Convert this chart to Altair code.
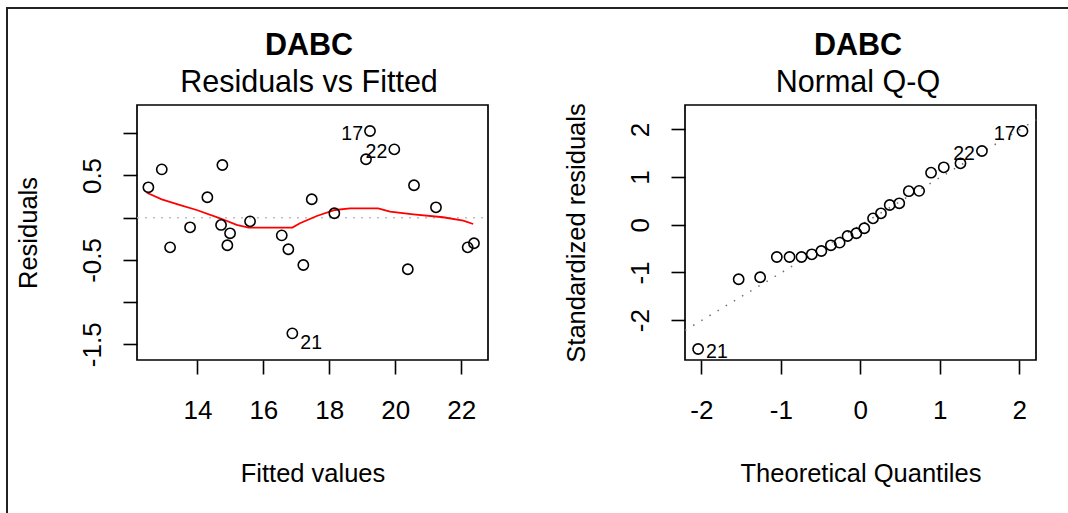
import altair as alt
import pandas as pd

FONT = "Liberation Sans"

# ---- Residuals vs Fitted -------------------------------------------------
fitted = [12.515, 12.921, 13.173, 13.779, 14.303, 14.758, 14.718, 14.991,
          14.909, 15.597, 16.558, 16.758, 17.212, 16.879, 17.467, 18.152,
          19.233, 19.112, 19.970, 20.567, 21.233, 20.379, 22.194, 22.385]
residuals = [0.360, 0.573, -0.351, -0.114, 0.242, 0.624, -0.086, -0.185,
             -0.327, -0.043, -0.209, -0.374, -0.560, -1.370, 0.218, 0.052,
             1.027, 0.692, 0.810, 0.384, 0.123, -0.611, -0.351, -0.303]
resid_ids = ["", "", "", "", "", "", "", "", "", "", "", "", "", "21",
             "", "", "17", "", "22", "", "", "", "", ""]

# lowess smooth through the residuals
smooth_x = [12.47, 12.92, 13.48, 13.98, 14.69, 15.19, 15.55, 16.20, 16.88,
            17.11, 17.62, 18.17, 18.63, 19.48, 19.84, 20.55, 21.45, 22.06, 22.36]
smooth_y = [0.296, 0.218, 0.150, 0.091, -0.007, -0.086, -0.118, -0.118, -0.118,
            -0.066, 0.020, 0.091, 0.111, 0.111, 0.071, 0.040, 0.005, -0.036, -0.075]

# ---- Normal Q-Q ----------------------------------------------------------
theoretical_q = [-2.04, -1.53, -1.26, -1.05, -0.89, -0.74, -0.61, -0.49,
                 -0.37, -0.26, -0.16, -0.05, 0.05, 0.16, 0.26, 0.37,
                 0.49, 0.61, 0.74, 0.89, 1.05, 1.26, 1.53, 2.04]
std_residuals = [-2.605, -1.143, -1.101, -0.675, -0.675, -0.675, -0.619, -0.550,
                 -0.430, -0.375, -0.235, -0.178, -0.073, 0.136, 0.241, 0.415,
                 0.451, 0.705, 0.712, 1.093, 1.206, 1.290, 1.548, 1.967]
qq_ids = ["21", "", "", "", "", "", "", "", "", "", "", "", "", "", "", "",
          "", "", "", "", "", "", "22", "17"]
qq_intercept = -0.01
qq_slope = 1.0

# ---- axis ranges and ticks -------------------------------------------------
rvf_x_domain = [12.17, 22.81]
rvf_y_domain = [-1.686, 1.335]
qq_x_domain = [-2.205, 2.21]
qq_y_domain = [-2.836, 2.513]

rvf_x_ticks = [14, 16, 18, 20, 22]
rvf_x_labels = ["14", "16", "18", "20", "22"]
rvf_y_ticks = [-1.5, -1.0, -0.5, 0.0, 0.5, 1.0]
rvf_y_labels = ["-1.5", "", "-0.5", "", "0.5", ""]
qq_x_ticks = [-2, -1, 0, 1, 2]
qq_x_labels = ["-2", "-1", "0", "1", "2"]
qq_y_ticks = [-2, -1, 0, 1, 2]
qq_y_labels = ["-2", "-1", "0", "1", "2"]

# ---- canvas layout (pixels) ----------------------------------------------
W, H = 1068, 513
PLOT_TOP, PLOT_BOTTOM = 105, 360
LEFT_X0, LEFT_X1 = 137, 488
RIGHT_X0, RIGHT_X1 = 685, 1036


def label_expr(values, labels):
    expr = "''"
    for v, lab in reversed(list(zip(values, labels))):
        expr = f"datum.value == {v} ? '{lab}' : ({expr})"
    return expr


def x_axis(values, labels, title):
    return alt.Axis(
        orient="bottom", offset=-(H - PLOT_BOTTOM), values=values,
        labelExpr=label_expr(values, labels), domain=False, grid=False,
        tickSize=14, tickWidth=1.6, tickColor="black",
        labelFont=FONT, labelFontSize=26, labelColor="black",
        labelBaseline="alphabetic", labelPadding=44,
        labelFlush=False, labelOverlap=False,
        title=title, titleFont=FONT, titleFontSize=25.5, titleFontWeight="normal",
        titleColor="black", titleBaseline="alphabetic", titleY=121,
    )


def y_axis(values, labels, title, left_px):
    return alt.Axis(
        orient="left", offset=-left_px, values=values,
        labelExpr=label_expr(values, labels), domain=False, grid=False,
        tickSize=14, tickWidth=1.6, tickColor="black",
        labelFont=FONT, labelFontSize=26, labelColor="black",
        labelAngle=270, labelAlign="center", labelBaseline="alphabetic",
        labelPadding=23, labelFlush=False, labelOverlap=False,
        title=title, titleFont=FONT, titleFontSize=25.5, titleFontWeight="normal",
        titleColor="black", titleAngle=270, titleAlign="center",
        titleBaseline="alphabetic", titleX=-100.5,
    )


def panel(x_dom, y_dom, x_rng, xa, ya, pts_df, xf, yf, extra_layers, title_lines, title_cx):
    xs = alt.Scale(domain=x_dom, range=list(x_rng), nice=False, zero=False)
    ys = alt.Scale(domain=y_dom, range=[PLOT_BOTTOM, PLOT_TOP], nice=False, zero=False)

    def X(field):
        return alt.X(field, type="quantitative", scale=xs, axis=xa)

    def Y(field):
        return alt.Y(field, type="quantitative", scale=ys, axis=ya)

    box_df = pd.DataFrame({"bx0": [x_dom[0]], "bx1": [x_dom[1]],
                           "by0": [y_dom[0]], "by1": [y_dom[1]]})
    box = alt.Chart(box_df).mark_rect(fillOpacity=0, stroke="black", strokeWidth=1.7).encode(
        x=X("bx0"), x2="bx1", y=Y("by0"), y2="by1")

    layers = [lyr(X, Y) for lyr in extra_layers]

    pts = alt.Chart(pts_df).mark_point(
        shape="circle", filled=False, size=105, color="black", strokeWidth=1.6, opacity=1
    ).encode(x=X(xf), y=Y(yf))

    lab_r = alt.Chart(pts_df).transform_filter(
        alt.FieldOneOfPredicate(field="id", oneOf=["17", "22"])
    ).mark_text(font=FONT, fontSize=19.5, color="black", align="right",
                baseline="middle", dx=-7, dy=3).encode(x=X(xf), y=Y(yf), text="id:N")

    lab_l_dy = 10 if xf == "fitted" else 3
    lab_l = alt.Chart(pts_df).transform_filter(
        alt.FieldOneOfPredicate(field="id", oneOf=["21"])
    ).mark_text(font=FONT, fontSize=19.5, color="black", align="left",
                baseline="middle", dx=8, dy=lab_l_dy).encode(x=X(xf), y=Y(yf), text="id:N")

    t_df = pd.DataFrame({"line": [title_lines[0]]})
    s_df = pd.DataFrame({"line": [title_lines[1]]})
    t1 = alt.Chart(t_df).mark_text(font=FONT, fontSize=30.5, fontWeight="bold", color="black",
                                   align="center", baseline="alphabetic").encode(
        x=alt.value(title_cx), y=alt.value(55), text="line:N")
    t2 = alt.Chart(s_df).mark_text(font=FONT, fontSize=30.5, color="black",
                                   align="center", baseline="alphabetic").encode(
        x=alt.value(title_cx), y=alt.value(92), text="line:N")

    return alt.layer(box, *layers, pts, lab_r, lab_l, t1, t2)


rvf_df = pd.DataFrame({"fitted": fitted, "residual": residuals, "id": resid_ids})
smooth_df = pd.DataFrame({"sx": smooth_x, "sy": smooth_y})
qq_df = pd.DataFrame({"theo": theoretical_q, "std": std_residuals, "id": qq_ids})

zero_df = pd.DataFrame({"zx0": [rvf_x_domain[0]], "zx1": [rvf_x_domain[1]], "zy": [0.0]})
qq_line_df = pd.DataFrame({
    "lx0": [qq_x_domain[0]], "lx1": [qq_x_domain[1]],
    "ly0": [qq_intercept + qq_slope * qq_x_domain[0]],
    "ly1": [qq_intercept + qq_slope * qq_x_domain[1]],
})


def zero_line(X, Y):
    return alt.Chart(zero_df).mark_rule(color="#bebebe", strokeWidth=1.6, strokeDash=[2, 6]).encode(
        x=X("zx0"), x2="zx1", y=Y("zy"))


def smooth_line(X, Y):
    return alt.Chart(smooth_df).mark_line(color="#ff0000", strokeWidth=1.8).encode(
        x=X("sx"), y=Y("sy"))


def qq_line(X, Y):
    return alt.Chart(qq_line_df).mark_rule(color="#6f6f6f", strokeWidth=1.5, strokeDash=[1.5, 8]).encode(
        x=X("lx0"), x2="lx1", y=Y("ly0"), y2="ly1")


left = panel(
    rvf_x_domain, rvf_y_domain, (LEFT_X0, LEFT_X1),
    x_axis(rvf_x_ticks, rvf_x_labels, "Fitted values"),
    y_axis(rvf_y_ticks, rvf_y_labels, "Residuals", LEFT_X0),
    rvf_df, "fitted", "residual", [zero_line, smooth_line],
    ["DABC", "Residuals vs Fitted"], 309,
)

right = panel(
    qq_x_domain, qq_y_domain, (RIGHT_X0, RIGHT_X1),
    x_axis(qq_x_ticks, qq_x_labels, "Theoretical Quantiles"),
    y_axis(qq_y_ticks, qq_y_labels, "Standardized residuals", RIGHT_X0),
    qq_df, "theo", "std", [qq_line],
    ["DABC", "Normal Q-Q"], 858,
)

# outer frame (top and left edges)
frame_df = pd.DataFrame({"k": [0]})
frame_top = alt.Chart(frame_df).mark_rule(color="#222222", strokeWidth=2).encode(
    x=alt.value(6), x2=alt.value(W), y=alt.value(8))
frame_left = alt.Chart(frame_df).mark_rule(color="#222222", strokeWidth=2).encode(
    x=alt.value(7), y=alt.value(7), y2=alt.value(H))

chart = alt.layer(left, right, frame_top, frame_left).resolve_scale(
    x="independent", y="independent"
).properties(
    width=W, height=H, padding=0, background="white",
    autosize=alt.AutoSizeParams(type="none"),
).configure_view(strokeWidth=0)

chart.save("out.html", embed_options={"renderer": "svg", "actions": False})
